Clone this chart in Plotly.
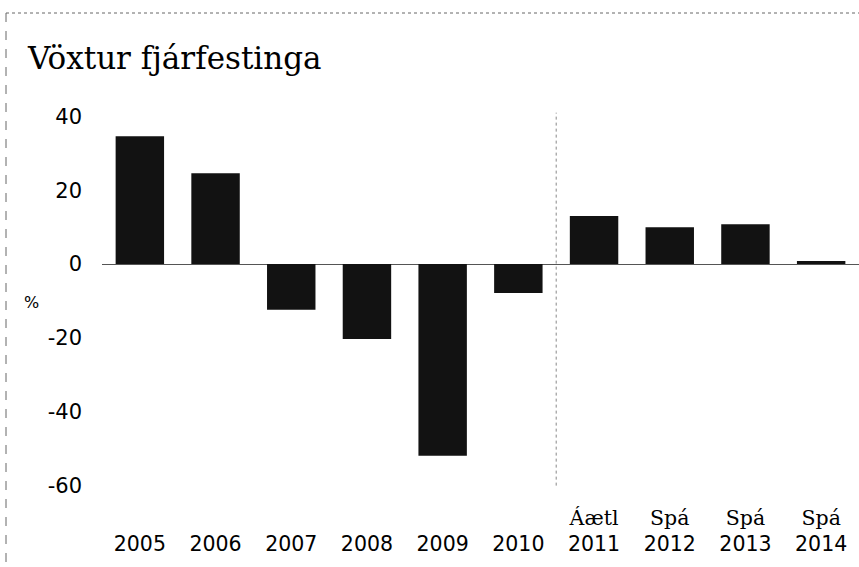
import plotly.graph_objects as go

# Data
categories = ["2005", "2006", "2007", "2008", "2009", "2010", "2011", "2012", "2013", "2014"]
prefixes = ["", "", "", "", "", "", "Áætl", "Spá", "Spá", "Spá"]
values = [34.6, 24.6, -12.4, -20.3, -51.9, -7.8, 13.0, 10.0, 10.8, 0.8]
y_ticks = [40, 20, 0, -20, -40, -60]

W, H = 859, 567
M = dict(l=102, r=0, t=109, b=74)

serif = "DejaVu Serif"
sans = "DejaVu Sans"

ticktext = []
for p, c in zip(prefixes, categories):
    if p:
        ticktext.append(f"<span style='font-family:{serif}'>{p}</span><br>{c}")
    else:
        ticktext.append(f" <br>{c}")

fig = go.Figure()
fig.add_trace(go.Bar(
    x=list(range(len(categories))), y=values,
    marker=dict(color="#121212", line=dict(width=0)),
    width=0.64,
))

pw = W - M["l"] - M["r"]
ph = H - M["t"] - M["b"]

def px_x(p):
    return (p - M["l"]) / pw

def px_y(p):
    return (H - M["b"] - p) / ph

shapes = [
    # divider between actuals and forecasts
    dict(type="line", xref="x", yref="y", x0=5.5, x1=5.5, y0=-60, y1=41,
         line=dict(color="#888888", width=1, dash="dot")),
    # scanned page border (top and left)
    dict(type="line", xref="paper", yref="paper", x0=px_x(6), x1=px_x(859), y0=px_y(13), y1=px_y(13),
         line=dict(color="#666666", width=1, dash="dot")),
    dict(type="line", xref="paper", yref="paper", x0=px_x(6), x1=px_x(6), y0=px_y(13), y1=px_y(567),
         line=dict(color="#666666", width=1, dash="dash")),
]

fig.update_layout(
    width=W, height=H,
    margin=M,
    paper_bgcolor="white", plot_bgcolor="white",
    showlegend=False,
    title=dict(text="Vöxtur fjárfestinga", xref="container", yref="container",
               x=28 / W, y=1 - 58 / H, xanchor="left", yanchor="middle",
               font=dict(family=serif, size=31, color="black")),
    xaxis=dict(tickmode="array", tickvals=list(range(len(categories))), ticktext=ticktext,
               range=[-0.5, 9.5], showgrid=False, zeroline=False, showline=False, ticks="",
               tickfont=dict(family=sans, size=20.5, color="black"), ticklabelstandoff=10),
    yaxis=dict(range=[-62, 42], tickmode="array", tickvals=y_ticks, ticktext=[str(v) for v in y_ticks],
               showgrid=False, zeroline=True, zerolinecolor="#555555", zerolinewidth=1,
               showline=False, ticks="", ticklabelstandoff=19,
               tickfont=dict(family=sans, size=21, color="black")),
    shapes=shapes,
    annotations=[dict(text="%", xref="paper", yref="paper", x=px_x(31), y=px_y(302),
                      xanchor="center", yanchor="middle", showarrow=False,
                      font=dict(family=sans, size=16, color="black"))],
)

fig.write_html("out.html", config={"displayModeBar": False},
               post_script="document.body.style.margin='0';")
